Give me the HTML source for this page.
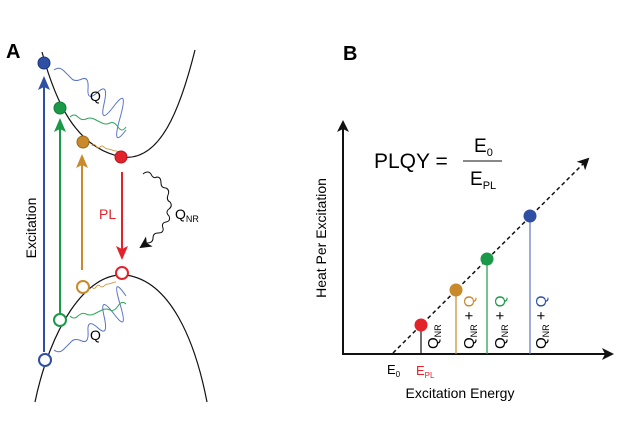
<!DOCTYPE html>
<html><head><meta charset="utf-8"><style>
html,body{margin:0;padding:0;background:#fff;}
svg{display:block;font-family:"Liberation Sans",Arial,sans-serif;}
</style></head><body>
<svg width="620" height="445" viewBox="0 0 620 445" xmlns="http://www.w3.org/2000/svg">
<defs>
<marker id="ab" markerWidth="14" markerHeight="12" refX="12" refY="6" orient="auto" markerUnits="userSpaceOnUse"><path d="M0,0 L14,6 L0,12 L3,6z" fill="#2e4fa3"/></marker>
<marker id="ag" markerWidth="14" markerHeight="12" refX="12" refY="6" orient="auto" markerUnits="userSpaceOnUse"><path d="M0,0 L14,6 L0,12 L3,6z" fill="#1a9a48"/></marker>
<marker id="ao" markerWidth="14" markerHeight="12" refX="12" refY="6" orient="auto" markerUnits="userSpaceOnUse"><path d="M0,0 L14,6 L0,12 L3,6z" fill="#c88a2a"/></marker>
<marker id="ar" markerWidth="14" markerHeight="12" refX="12" refY="6" orient="auto" markerUnits="userSpaceOnUse"><path d="M0,0 L14,6 L0,12 L3,6z" fill="#e4222a"/></marker>
<marker id="ak" markerWidth="12" markerHeight="12" refX="10" refY="6" orient="auto" markerUnits="userSpaceOnUse"><path d="M0,0 L12,6 L0,12 L3,6z" fill="#111"/></marker>
</defs>
<!-- Panel A -->
<text x="6" y="58" font-size="20" font-weight="bold">A</text>
<path d="M42,52 C55,100 75,148 122,157 C160,162 180,110 195,50" fill="none" stroke="#111" stroke-width="1.2"/>
<path d="M35,402 C50,330 85,272 125,275 C170,280 195,340 207,402" fill="none" stroke="#111" stroke-width="1.2"/>
<!-- wavy lines -->
<path d="M54,70 q5,-4 10,1 t8,8 t10,0 t6,10 t10,3 t6,12 t10,2 t6,12 t6,12" fill="none" stroke="#5a74c4" stroke-width="1"/>
<path d="M70,117 q4,-4 8,0 t8,2 t8,0 t8,4 t8,0 t8,4 t8,0" fill="none" stroke="#2ea85a" stroke-width="1"/>
<path d="M92,146 q2,-3 4,0 t4,1 t4,0 t4,2 t4,1 t4,1 t4,2" fill="none" stroke="#c88a2a" stroke-width="0.8"/>
<path d="M54,350 q5,4 10,-1 t8,-8 t10,0 t6,-10 t10,-3 t6,-12 t10,-2 t6,-10 t6,-8" fill="none" stroke="#5a74c4" stroke-width="1"/>
<path d="M70,316 q4,4 8,0 t8,-2 t8,0 t8,-4 t8,0 t8,-4 t8,-2" fill="none" stroke="#2ea85a" stroke-width="1"/>
<path d="M92,287 q2,3 4,0 t4,-1 t4,0 t4,-2 t4,-1 t4,-1" fill="none" stroke="#c88a2a" stroke-width="0.8"/>
<!-- arrows -->
<line x1="44" y1="352" x2="44" y2="78" stroke="#2e4fa3" stroke-width="2" marker-end="url(#ab)"/>
<line x1="60" y1="314" x2="60" y2="120" stroke="#1a9a48" stroke-width="2" marker-end="url(#ag)"/>
<line x1="82" y1="270" x2="82" y2="156" stroke="#c88a2a" stroke-width="2" marker-end="url(#ao)"/>
<line x1="122" y1="172" x2="122" y2="258" stroke="#e4222a" stroke-width="2" marker-end="url(#ar)"/>
<path d="M143,174 q5,-4 8,0 q2,5 6,3 q4,0 4,6 q0,5 5,5 q4,2 2,7 q-2,5 2,7 q3,4 -1,7 q-4,3 0,7 q2,5 -3,6 q-5,1 -3,6 q1,5 -5,5 q-5,0 -5,5 q0,5 -6,5 l-6,4" fill="none" stroke="#111" stroke-width="1" marker-end="url(#ak)"/>
<!-- dots -->
<circle cx="44" cy="63" r="6" fill="#2e4fa3" stroke="#1c3580"/>
<circle cx="60" cy="108" r="6" fill="#1a9a48" stroke="#137a38"/>
<circle cx="83" cy="142" r="6" fill="#c88a2a" stroke="#9a6a1e"/>
<circle cx="121" cy="157" r="6" fill="#e4222a" stroke="#b01a20"/>
<circle cx="122" cy="273" r="6" fill="#fff" stroke="#e4222a" stroke-width="2"/>
<circle cx="83" cy="287" r="6" fill="#fff" stroke="#c88a2a" stroke-width="2"/>
<circle cx="60" cy="320" r="6" fill="#fff" stroke="#1a9a48" stroke-width="2"/>
<circle cx="45" cy="360" r="6" fill="#fff" stroke="#2e4fa3" stroke-width="2"/>
<text x="90" y="101" font-size="14">Q</text>
<text x="90" y="340" font-size="14">Q</text>
<text x="99" y="219" font-size="14" fill="#e4222a">PL</text>
<text x="175" y="219" font-size="14">Q<tspan font-size="9" dy="3">NR</tspan></text>
<text transform="translate(36,228) rotate(-90)" font-size="14" text-anchor="middle">Excitation</text>
<!-- Panel B -->
<text x="343" y="60" font-size="20" font-weight="bold">B</text>
<line x1="343" y1="355" x2="343" y2="122" stroke="#111" stroke-width="2" marker-end="url(#ak)"/>
<line x1="342" y1="354" x2="612" y2="354" stroke="#111" stroke-width="2" marker-end="url(#ak)"/>
<line x1="393" y1="353" x2="588" y2="159" stroke="#111" stroke-width="1.5" stroke-dasharray="4,3" marker-end="url(#ak)"/>
<line x1="421" y1="325" x2="421" y2="354" stroke="#111" stroke-width="1.2"/>
<line x1="456" y1="290" x2="456" y2="354" stroke="#c88a2a" stroke-width="1.2"/>
<line x1="487" y1="259" x2="487" y2="354" stroke="#1a9a48" stroke-width="1.2"/>
<line x1="530" y1="216" x2="530" y2="354" stroke="#5a74c4" stroke-width="1.2"/>
<circle cx="421" cy="325" r="6.5" fill="#e4222a"/>
<circle cx="456" cy="290" r="6.5" fill="#c88a2a"/>
<circle cx="487" cy="259" r="6.5" fill="#1a9a48"/>
<circle cx="530" cy="216" r="6.5" fill="#2e4fa3"/>
<g font-size="15">
<text transform="translate(438,349) rotate(-90)">Q<tspan font-size="9" dy="3">NR</tspan></text>
<text transform="translate(474,349) rotate(-90)">Q<tspan font-size="9" dy="3">NR</tspan><tspan dy="-3"> + </tspan><tspan fill="#c88a2a">Q</tspan></text>
<text transform="translate(505,349) rotate(-90)">Q<tspan font-size="9" dy="3">NR</tspan><tspan dy="-3"> + </tspan><tspan fill="#1a9a48">Q</tspan></text>
<text transform="translate(546,349) rotate(-90)">Q<tspan font-size="9" dy="3">NR</tspan><tspan dy="-3"> + </tspan><tspan fill="#2e4fa3">Q</tspan></text>
</g>
<text x="387" y="374" font-size="13">E<tspan font-size="8" dy="3">0</tspan></text>
<text x="416" y="375" font-size="13" fill="#e4222a">E<tspan font-size="8" dy="3">PL</tspan></text>
<text x="460" y="398" font-size="14" text-anchor="middle">Excitation Energy</text>
<text transform="translate(326,238) rotate(-90)" font-size="14" text-anchor="middle">Heat Per Excitation</text>
<text x="374" y="168" font-size="21">PLQY =</text>
<line x1="463" y1="161" x2="502" y2="161" stroke="#111" stroke-width="1"/>
<text x="474" y="152" font-size="19">E<tspan font-size="11" dy="4">0</tspan></text>
<text x="470" y="185" font-size="19">E<tspan font-size="11" dy="4">PL</tspan></text>
</svg>
</body></html>
